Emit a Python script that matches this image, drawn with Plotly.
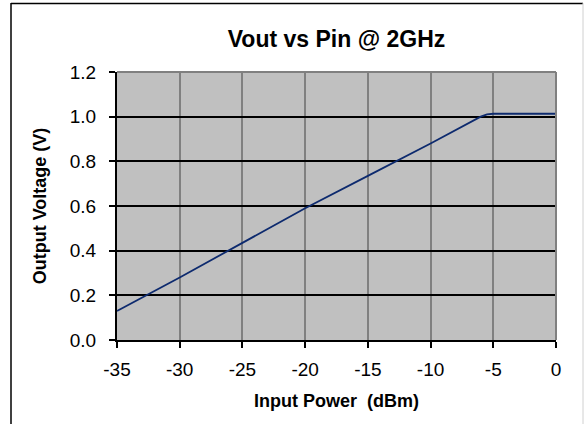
import plotly.graph_objects as go

pin_dbm = [-35, -30, -25, -20, -15, -10, -6, -5.5, -5, 0]
vout_v = [0.13, 0.28, 0.435, 0.59, 0.735, 0.88, 1.0, 1.01, 1.013, 1.013]
x_ticks = [-35, -30, -25, -20, -15, -10, -5, 0]
y_ticks = [0.0, 0.2, 0.4, 0.6, 0.8, 1.0, 1.2]

W, H = 584, 424
L, R, T, B = 117, 28, 72, 84
pw, ph = W - L - R, H - T - B

def px(xp):
    return (xp - L) / pw

def py(yp):
    return (H - B - yp) / ph

fig = go.Figure()
fig.add_trace(go.Scatter(x=pin_dbm, y=vout_v, mode="lines",
                         line=dict(color="#0d2a6e", width=1.8), showlegend=False))

font = "Liberation Sans, Arial, sans-serif"
fig.update_layout(
    width=W, height=H,
    margin=dict(l=L, r=R, t=T, b=B),
    paper_bgcolor="white", plot_bgcolor="#C0C0C0",
    font=dict(family=font, size=19, color="black"),
    title=dict(text="<b>Vout vs Pin @ 2GHz</b>", x=0.5, xref="paper", xanchor="center",
               y=1 - 39 / H, yanchor="middle", font=dict(size=23, family=font)),
    xaxis=dict(range=[-35, 0], tickvals=x_ticks, ticktext=[str(v) for v in x_ticks],
               showgrid=True, gridcolor="#808080", gridwidth=1.5,
               showline=True, linecolor="black", linewidth=2,
               ticks="outside", ticklen=6, tickcolor="black", tickwidth=1.5,
               ticklabelstandoff=5,
               zeroline=False,
               title=dict(text="<b>Input Power  (dBm)</b>", font=dict(size=18), standoff=16)),
    yaxis=dict(range=[0, 1.2], tickvals=y_ticks, ticktext=[f"{v:.1f}" for v in y_ticks],
               showgrid=True, gridcolor="black", gridwidth=1.5,
               showline=True, linecolor="black", linewidth=2,
               ticks="outside", ticklen=6, tickcolor="black", tickwidth=1.5,
               ticklabelstandoff=9,
               zeroline=False,
               title=dict(text="<b>Output Voltage (V)</b>", font=dict(size=18), standoff=18)),
)

# plot area gray border on top/right
fig.add_shape(type="line", xref="paper", yref="paper", x0=0, x1=1, y0=1, y1=1,
              line=dict(color="#808080", width=2))
fig.add_shape(type="line", xref="paper", yref="paper", x0=1, x1=1, y0=0, y1=1,
              line=dict(color="#808080", width=2))
# outer chart border
fig.add_shape(type="line", xref="paper", yref="paper", x0=px(11), x1=px(11), y0=py(3), y1=py(430),
              line=dict(color="black", width=1.5))
fig.add_shape(type="line", xref="paper", yref="paper", x0=px(11), x1=px(583), y0=py(3.5), y1=py(3.5),
              line=dict(color="black", width=1.5))
fig.add_shape(type="line", xref="paper", yref="paper", x0=px(583), x1=px(583), y0=py(3), y1=py(430),
              line=dict(color="#d0d0d0", width=1))

fig.write_html("out.html", post_script="document.body.style.margin='0';",
               config={"displayModeBar": False})
